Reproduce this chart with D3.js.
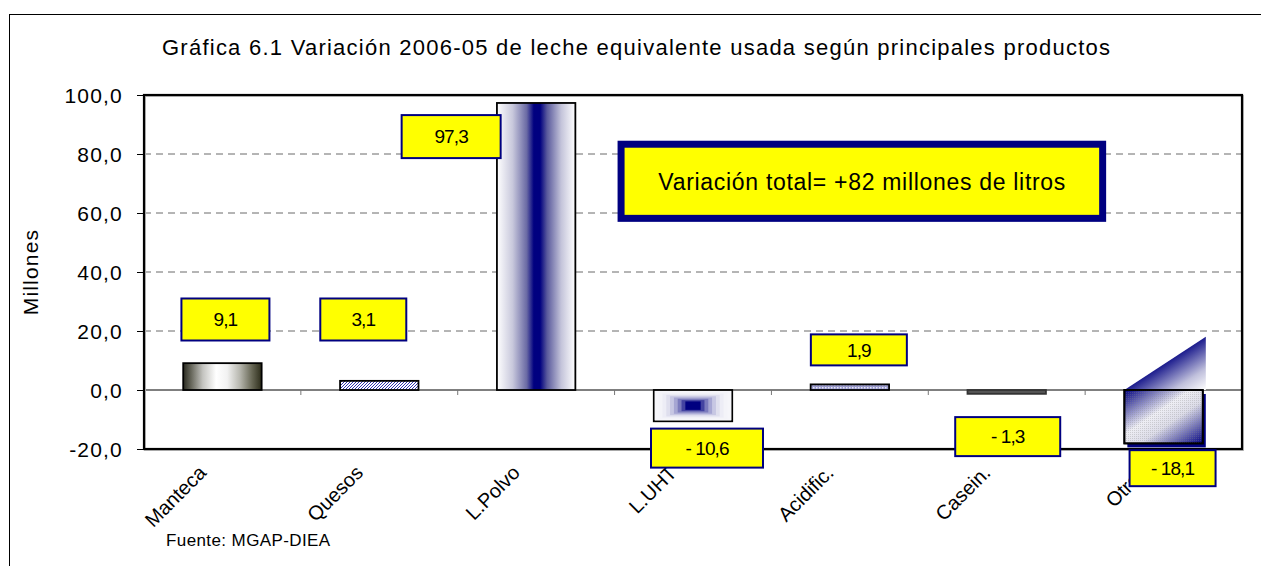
<!DOCTYPE html>
<html>
<head>
<meta charset="utf-8">
<script src="https://cdn.jsdelivr.net/npm/d3@7"></script>
<style>
  body { margin: 0; background: #fff; }
  text { font-family: "Liberation Sans", Arial, sans-serif; fill: #000; }
</style>
</head>
<body>
<svg id="chart"></svg>
<script>
const categories = ["Manteca", "Quesos", "L.Polvo", "L.UHT", "Acidific.", "Casein.", "Otros"];
const values = [9.1, 3.1, 97.3, -10.6, 1.9, -1.3, -18.1];
const yTicks = [-20, 0, 20, 40, 60, 80, 100];
const gridTicks = [20, 40, 60, 80];
const titleText = "Gráfica 6.1 Variación 2006-05 de leche equivalente usada según principales productos";
const axisTitle = "Millones";
const sourceText = "Fuente: MGAP-DIEA";
const totalText = "Variación total= +82 millones de litros";

// where Excel left the value boxes (centre in axis units, pixel shift, box size)
const labelAt = [23.9, 23.9, 85.9, -19.7, 13.6, -15.8, -26.5];
const labelDx = [3, -16, -85, 14, 9, 1, 9];
const labelW = [88, 86, 99, 112, 96, 105, 86];
const labelH = [42, 42, 43, 39, 31, 39, 36];

const width = 1261, height = 566;
const svg = d3.select("#chart")
    .attr("width", width)
    .attr("height", height);

const x = d3.scaleBand()
    .domain(categories)
    .range([144, 1242])
    .paddingInner(0.5)
    .paddingOuter(0.25);

const y = d3.scaleLinear()
    .domain([-20, 100])
    .range([449, 95]);

const locale = {decimal: ",", thousands: ".", grouping: [3], currency: ["", ""]};
const fmt = d3.formatLocale({...locale, minus: "- "}).format(".1f");
const tickFmt = d3.formatLocale({...locale, minus: "-"}).format(".1f");

// fills
const defs = svg.append("defs");

function linear(id, stops, x2, y2) {
    const g = defs.append("linearGradient").attr("id", id)
        .attr("x1", 0).attr("y1", 0).attr("x2", x2).attr("y2", y2);
    stops.forEach(s => g.append("stop").attr("offset", s[0]).attr("stop-color", s[1]));
}

linear("manteca", [[0, "#2a2a20"], [0.1, "#66665a"], [0.25, "#c4c4c0"], [0.42, "#ffffff"],
    [0.56, "#f2f2f2"], [0.72, "#b8b8b0"], [0.88, "#666654"], [1, "#2c2c1a"]], 1, 0);
linear("polvo", [[0, "#ffffff"], [0.2, "#c8c8dc"], [0.38, "#6a6aa4"], [0.47, "#000080"],
    [0.55, "#000080"], [0.64, "#5a5a9c"], [0.82, "#c4c4da"], [1, "#ffffff"]], 1, 0);
linear("otros", [[0, "#000080"], [0.42, "#eeeef4"], [0.6, "#dcdce8"], [1, "#000080"]], 1, 1);
linear("otrosTri", [[0.45, "#000080"], [0.8, "#c0c0dc"], [1, "#ffffff"]], 1, 1);

const hatch = defs.append("pattern").attr("id", "quesos")
    .attr("patternUnits", "userSpaceOnUse").attr("width", 3).attr("height", 3);
hatch.append("rect").attr("width", 3).attr("height", 3).attr("fill", "#ffffff");
hatch.append("path").attr("d", "M0,3L3,0M-1,1L1,-1M2,4L4,2").attr("stroke", "#3030b0").attr("stroke-width", 1);

const dots = defs.append("pattern").attr("id", "acid")
    .attr("patternUnits", "userSpaceOnUse").attr("width", 3).attr("height", 3);
dots.append("rect").attr("width", 3).attr("height", 3).attr("fill", "#9a9acc");
dots.append("rect").attr("width", 1.5).attr("height", 1.5).attr("fill", "#e6e6f4");

const grain = defs.append("pattern").attr("id", "grain")
    .attr("patternUnits", "userSpaceOnUse").attr("width", 2).attr("height", 2);
grain.append("rect").attr("width", 1).attr("height", 1).attr("fill", "#888");

const fills = ["url(#manteca)", "url(#quesos)", "url(#polvo)", null, "url(#acid)", "#555555", "url(#otros)"];

// outer frame
svg.append("rect")
    .attr("x", 9.5).attr("y", 14.5)
    .attr("width", 1300).attr("height", 600)
    .attr("fill", "none").attr("stroke", "#000").attr("stroke-width", 1);

// title
svg.append("text")
    .attr("x", 636).attr("y", 55)
    .attr("text-anchor", "middle")
    .style("font-size", "22px")
    .attr("textLength", 948)
    .attr("lengthAdjust", "spacing")
    .text(titleText);

// gridlines
svg.selectAll(".grid")
    .data(gridTicks)
    .enter().append("line")
    .attr("class", "grid")
    .attr("x1", 144).attr("x2", 1242)
    .attr("y1", d => y(d)).attr("y2", d => y(d))
    .attr("stroke", "#6a6a6a")
    .attr("stroke-dasharray", "7,5");

// zero line
svg.append("line")
    .attr("x1", 144).attr("x2", 1242)
    .attr("y1", y(0)).attr("y2", y(0))
    .attr("stroke", "#000").attr("stroke-width", 1.2);

// category ticks on zero line
svg.selectAll(".ctick")
    .data(d3.range(1, categories.length))
    .enter().append("line")
    .attr("class", "ctick")
    .attr("x1", i => 144 + i * x.step()).attr("x2", i => 144 + i * x.step())
    .attr("y1", y(0)).attr("y2", y(0) + 5)
    .attr("stroke", "#777");

// y axis
const yAxis = svg.append("g")
    .attr("transform", "translate(144,0)")
    .call(d3.axisLeft(y).tickValues(yTicks).tickSize(7).tickPadding(14).tickFormat(tickFmt));
yAxis.select(".domain").remove();
yAxis.selectAll("text")
    .style("font-size", "21px")
    .style("font-family", "'Liberation Sans', Arial, sans-serif")
    .style("letter-spacing", "1.2px")
    .attr("dy", "0.36em");
yAxis.selectAll("line").attr("stroke", "#000");

svg.append("text")
    .attr("transform", "translate(38,272) rotate(-90)")
    .attr("text-anchor", "middle")
    .style("font-size", "21px")
    .style("letter-spacing", "1.2px")
    .text(axisTitle);

// bars
const bars = categories.map((c, i) => ({c, v: values[i], i}));
const bx = d => x(d.c);
const by = d => Math.min(y(0), y(d.v));
const bh = d => Math.abs(y(d.v) - y(0));

// Otros: triangle and shadow drawn behind the bar
const otros = bars[6];
const triH = x.bandwidth() * 0.68;
svg.append("path")
    .attr("d", `M${bx(otros)},${y(0)}L${bx(otros) + x.bandwidth() + 3},${y(0) - triH}L${bx(otros) + x.bandwidth() + 3},${y(0)}Z`)
    .attr("fill", "url(#otrosTri)");
svg.append("rect")
    .attr("x", bx(otros) + 3).attr("y", by(otros) + 4)
    .attr("width", x.bandwidth()).attr("height", bh(otros))
    .attr("fill", "#000080");

svg.selectAll(".bar")
    .data(bars)
    .enter().append("rect")
    .attr("class", "bar")
    .attr("x", bx)
    .attr("y", by)
    .attr("width", x.bandwidth())
    .attr("height", bh)
    .attr("fill", d => fills[d.i] || "#fff")
    .attr("stroke", d => d.i === 5 ? "#333" : "#000")
    .attr("stroke-width", 1.8);

// grain over Otros
svg.append("rect")
    .attr("x", bx(otros)).attr("y", by(otros))
    .attr("width", x.bandwidth()).attr("height", bh(otros))
    .attr("fill", "url(#grain)").attr("opacity", 0.3);
svg.append("rect")
    .attr("x", bx(otros)).attr("y", by(otros))
    .attr("width", x.bandwidth()).attr("height", bh(otros))
    .attr("fill", "none").attr("stroke", "#000").attr("stroke-width", 1.8);

// L.UHT: rectangular gradient with nested rects
const uht = bars[3];
const steps = 9;
const shade = d3.interpolateRgb("#f6f6fa", "#000080");
svg.selectAll(".uht")
    .data(d3.range(steps))
    .enter().append("rect")
    .attr("class", "uht")
    .attr("x", k => bx(uht) + 1 + (k / steps) * (x.bandwidth() - 2) / 2 * 0.9)
    .attr("y", k => by(uht) + 1 + (k / steps) * (bh(uht) - 2) / 2 * 0.8)
    .attr("width", k => (x.bandwidth() - 2) * (1 - 0.9 * k / steps))
    .attr("height", k => (bh(uht) - 2) * (1 - 0.8 * k / steps))
    .attr("fill", k => shade(Math.pow(k / (steps - 1), 2.4)));

// plot frame
svg.append("rect")
    .attr("x", 145).attr("y", 96)
    .attr("width", 1098).attr("height", 354)
    .attr("fill", "none").attr("stroke", "#bbb").attr("stroke-width", 2);
svg.append("rect")
    .attr("x", 144).attr("y", 95)
    .attr("width", 1098).attr("height", 354)
    .attr("fill", "none").attr("stroke", "#000").attr("stroke-width", 2.2);

// category labels
svg.selectAll(".xlab")
    .data(categories)
    .enter().append("text")
    .attr("class", "xlab")
    .attr("transform", d => `translate(${x(d) + x.bandwidth() / 2 - 15},474) rotate(-45)`)
    .attr("text-anchor", "end")
    .style("font-size", "20px")
    .text(d => d);

// value boxes
const lab = svg.selectAll(".lab")
    .data(bars)
    .enter().append("g")
    .attr("class", "lab")
    .attr("transform", d => `translate(${x(d.c) + x.bandwidth() / 2 + labelDx[d.i]},${y(labelAt[d.i])})`);
lab.append("rect")
    .attr("x", d => -labelW[d.i] / 2).attr("y", d => -labelH[d.i] / 2)
    .attr("width", d => labelW[d.i]).attr("height", d => labelH[d.i])
    .attr("fill", "#ffff00")
    .attr("stroke", "#000080").attr("stroke-width", 2);
lab.append("text")
    .attr("text-anchor", "middle")
    .attr("dy", "0.36em")
    .style("font-size", "19px")
    .style("letter-spacing", "-0.9px")
    .text(d => fmt(d.v));

// total box
const tx0 = x.range()[0] + 3 * x.step() + 3;
const tx1 = x.range()[0] + 6 * x.step() + 21;
svg.append("rect")
    .attr("x", tx0 + 3.5).attr("y", y(84.5) + 3.5)
    .attr("width", tx1 - tx0 - 7).attr("height", y(57) - y(84.5) - 7)
    .attr("fill", "#ffff00")
    .attr("stroke", "#000080").attr("stroke-width", 7);
svg.append("text")
    .attr("x", (tx0 + tx1) / 2).attr("y", (y(84.5) + y(57)) / 2)
    .attr("dy", "0.36em")
    .attr("text-anchor", "middle")
    .style("font-size", "23px")
    .attr("textLength", 407)
    .attr("lengthAdjust", "spacing")
    .text(totalText);

// source
svg.append("text")
    .attr("x", 166).attr("y", 546)
    .style("font-size", "17px")
    .style("letter-spacing", "0.4px")
    .text(sourceText);
</script>
</body>
</html>
